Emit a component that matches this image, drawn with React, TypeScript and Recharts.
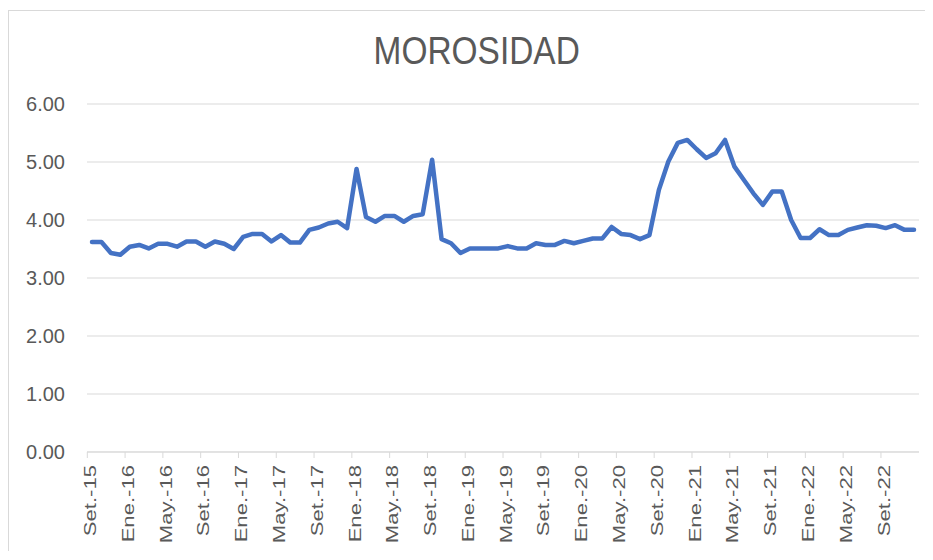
import { CartesianGrid, Line, LineChart, XAxis, YAxis } from 'recharts';

// meses en castellano, como en el eje original
const MONTHS = ['Ene.', 'Feb.', 'Mar.', 'Abr.', 'May.', 'Jun.', 'Jul.', 'Ago.', 'Set.', 'Oct.', 'Nov.', 'Dic.'];

// Set.-15 .. Dic.-22 (88 meses)
const CATEGORIES: string[] = [];
for (let y = 15; y <= 22; y++) {
  for (let m = 0; m < 12; m++) {
    if (y === 15 && m < 8) continue;
    CATEGORIES.push(`${MONTHS[m]}-${y}`);
  }
}

// morosidad (%)
const MOROSIDAD = [
  3.62, 3.62, 3.43, 3.40, 3.54, 3.57, 3.51, 3.59, 3.59, 3.54,
  3.63, 3.63, 3.54, 3.63, 3.59, 3.50, 3.71, 3.76, 3.76, 3.63,
  3.74, 3.61, 3.61, 3.83, 3.87, 3.94, 3.97, 3.86, 4.88, 4.05,
  3.97, 4.07, 4.07, 3.97, 4.07, 4.10, 5.04, 3.67, 3.60, 3.43,
  3.51, 3.51, 3.51, 3.51, 3.55, 3.51, 3.51, 3.60, 3.57, 3.57,
  3.64, 3.60, 3.64, 3.68, 3.68, 3.88, 3.76, 3.74, 3.67, 3.74,
  4.52, 5.01, 5.33, 5.38, 5.22, 5.07, 5.15, 5.38, 4.92, 4.69,
  4.46, 4.26, 4.49, 4.49, 4.00, 3.69, 3.69, 3.84, 3.74, 3.74,
  3.83, 3.87, 3.91, 3.90, 3.86, 3.91, 3.83, 3.83,
];

const Y_TICKS = [0, 1, 2, 3, 4, 5, 6];

const data = CATEGORIES.map((mes, i) => ({ mes, valor: MOROSIDAD[i] }));

const GRAY = '#595959';
const GRID = '#d9d9d9';

// etiqueta vertical + marca de división a la izquierda de la categoría
function MonthTick({ x, y, payload }: any) {
  return (
    <g>
      <line x1={x - 4.7} y1={y - 8} x2={x - 4.7} y2={y - 2} stroke={GRID} />
      <text
        transform={`translate(${x - 2},${y + 5}) rotate(-90) scale(1.3,1)`}
        textAnchor="end"
        dy="0.35em"
        fontSize={17}
        fill={GRAY}
      >
        {payload.value}
      </text>
    </g>
  );
}

export default function App() {
  return (
    <div
      style={{
        position: 'relative',
        marginTop: 2,
        width: 924,
        height: 541,
        boxSizing: 'border-box',
        border: `1px solid ${GRID}`,
        borderBottom: 'none',
        fontFamily: '"Liberation Sans", Arial, sans-serif',
        background: '#fff',
      }}
    >
      <LineChart
        width={922}
        height={540}
        data={data}
        margin={{ top: 93, right: 12, bottom: 9, left: 0 }}
      >
        <CartesianGrid vertical={false} stroke={GRID} />
        <XAxis
          dataKey="mes"
          interval={3}
          padding={{ left: 5, right: 5 }}
          height={90}
          tickLine={false}
          axisLine={{ stroke: GRID }}
          tick={<MonthTick />}
        />
        <YAxis
          width={78}
          domain={[0, 6]}
          ticks={Y_TICKS}
          tickFormatter={(v: number) => v.toFixed(2)}
          axisLine={false}
          tickLine={false}
          tickMargin={16}
          tick={{ fontSize: 20, fill: GRAY }}
        />
        <Line
          type="linear"
          dataKey="valor"
          stroke="#4472c4"
          strokeWidth={4.5}
          strokeLinejoin="round"
          strokeLinecap="round"
          dot={false}
          isAnimationActive={false}
        />
      </LineChart>
      <svg
        width={922}
        height={80}
        style={{ position: 'absolute', top: 0, left: 0, pointerEvents: 'none' }}
      >
        <text transform="translate(467.7,53.3) scale(0.88,1)" textAnchor="middle" fontSize={38} fill={GRAY}>
          MOROSIDAD
        </text>
      </svg>
    </div>
  );
}
